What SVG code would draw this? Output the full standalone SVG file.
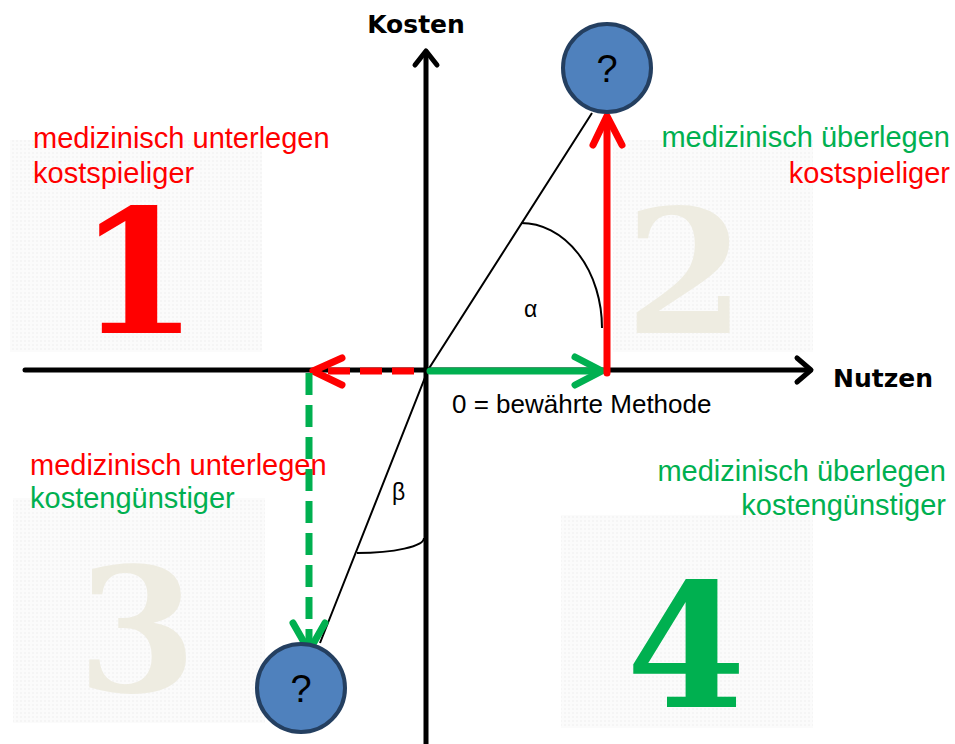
<svg xmlns="http://www.w3.org/2000/svg" width="955" height="744" viewBox="0 0 955 744">
  <defs>
    <pattern id="grain" width="4" height="4" patternUnits="userSpaceOnUse">
      <rect width="4" height="4" fill="#fbfbfb"/>
      <rect width="2" height="2" fill="#f5f5f5"/>
    </pattern>
  </defs>
  <style>
    .panel { fill: url(#grain); }
    .num { font-family: "DejaVu Serif", "Liberation Serif", serif; font-weight: bold; font-size: 172px; text-anchor: middle; }
    .lbl { font-family: "Liberation Sans", Arial, sans-serif; font-size: 29px; }
    .red { fill: #ff0000; }
    .green { fill: #00b050; }
    .beige { fill: #eeece1; }
    .axis { stroke: #000; stroke-width: 5; fill: none; stroke-linecap: round; stroke-linejoin: round; }
    .axislbl { font-family: "DejaVu Sans", Verdana, sans-serif; font-weight: bold; font-size: 25px; fill: #000; }
    .thin { stroke: #000; stroke-width: 2; fill: none; }
    .arr { fill: none; stroke-width: 7; stroke-linecap: round; stroke-linejoin: round; }
    .dash { fill: none; stroke-width: 7; stroke-dasharray: 22 10; }
    .node circle { fill: #4f81bd; stroke: #243f60; stroke-width: 4; }
    .node text { font-family: "Liberation Sans", Arial, sans-serif; font-size: 38px; fill: #000; text-anchor: middle; }
    .greek { font-family: "Liberation Sans", Arial, sans-serif; font-size: 23px; fill: #000; }
  </style>

  <!-- quadrant panels -->
  <g id="quadrant-1">
    <rect class="panel" x="10" y="140" width="252" height="212"/>
    <text class="num red" x="138" y="333">1</text>
    <text class="lbl red" x="33" y="148">medizinisch unterlegen</text>
    <text class="lbl red" x="33" y="183">kostspieliger</text>
  </g>
  <g id="quadrant-2">
    <rect class="panel" x="613" y="140" width="200" height="212"/>
    <text class="num beige" x="685" y="333">2</text>
    <text class="lbl green" x="950" y="147" text-anchor="end">medizinisch überlegen</text>
    <text class="lbl red" x="950" y="183" text-anchor="end">kostspieliger</text>
  </g>
  <g id="quadrant-3">
    <rect class="panel" x="13" y="498" width="252" height="225"/>
    <text class="num beige" x="137" y="692">3</text>
    <text class="lbl red" x="30" y="475">medizinisch unterlegen</text>
    <text class="lbl green" x="30" y="508">kostengünstiger</text>
  </g>
  <g id="quadrant-4">
    <rect class="panel" x="561" y="515" width="252" height="213"/>
    <text class="num green" x="686" y="707">4</text>
    <text class="lbl green" x="946" y="481" text-anchor="end">medizinisch überlegen</text>
    <text class="lbl green" x="946" y="515" text-anchor="end">kostengünstiger</text>
  </g>

  <!-- axes -->
  <g id="axes">
    <line class="axis" x1="25" y1="370" x2="810" y2="370"/>
    <polyline class="axis" points="797,358 811,370 797,382"/>
    <line class="axis" x1="426" y1="744" x2="426" y2="52"/>
    <polyline class="axis" points="415,65 426,51 437,65"/>
    <text class="axislbl" x="416" y="33" text-anchor="middle">Kosten</text>
    <text class="axislbl" x="833" y="387">Nutzen</text>
    <text id="origin-label" x="452" y="413" font-family="Liberation Sans, Arial, sans-serif" font-size="26" fill="#000">0 = bewährte Methode</text>
  </g>

  <!-- connectors -->
  <g id="connectors">
    <!-- angle lines and arcs -->
    <polyline class="thin" points="592,113 428,370 320,643"/>
    <path class="thin" d="M521,223 A81,105 0 0 1 602,328"/>
    <path class="thin" d="M357,553 A67,15 0 0 0 424,538"/>
    <text class="greek" x="524" y="317">α</text>
    <text class="greek" x="392" y="500">β</text>

    <!-- benefit arrow (green, right) -->
    <line class="arr" x1="430" y1="371" x2="600" y2="371" stroke="#00b050"/>
    <polyline class="arr" points="575,357 602,371 575,385" stroke="#00b050"/>

    <!-- cost arrow (red, up) -->
    <line class="arr" x1="607" y1="373" x2="607" y2="118" stroke="#ff0000"/>
    <polyline class="arr" points="593,145 607,116 622,145" stroke="#ff0000"/>

    <!-- dashed benefit loss (red, left) -->
    <line class="dash" x1="414" y1="371" x2="318" y2="371" stroke="#ff0000"/>
    <polyline class="arr" points="342,358 313,371 342,385" stroke="#ff0000"/>

    <!-- dashed cost saving (green, down) -->
    <line class="dash" x1="309" y1="373" x2="309" y2="646" stroke="#00b050"/>
    <polyline class="arr" points="293,623 309,651 325,623" stroke="#00b050"/>
  </g>

  <!-- nodes -->
  <g id="node-top" class="node">
    <circle cx="607" cy="68" r="44"/>
    <text x="607" y="82">?</text>
  </g>
  <g id="node-bottom" class="node">
    <circle cx="301" cy="688" r="44"/>
    <text x="301" y="702">?</text>
  </g>
</svg>
